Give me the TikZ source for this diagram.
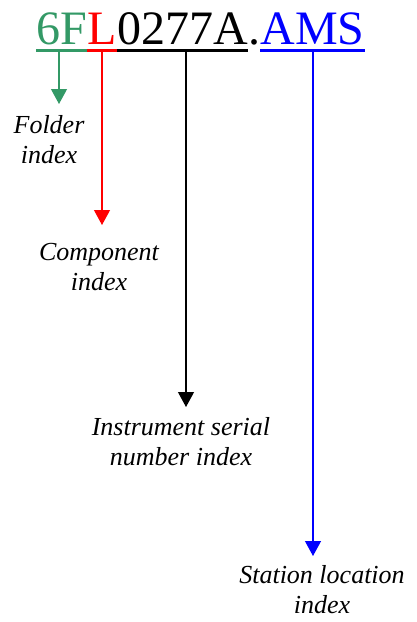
\documentclass[tikz,border=0pt]{standalone}
\usepackage{fontspec}
\setmainfont{Liberation Serif}
\usetikzlibrary{arrows.meta}
\definecolor{fgreen}{RGB}{51,153,102}
\definecolor{fred}{RGB}{255,0,0}
\definecolor{fblue}{RGB}{0,0,255}
\begin{document}
\begin{tikzpicture}[x=1pt,y=-1pt,
  part/.style={inner sep=0pt,anchor=base west,font=\fontsize{48}{54}\selectfont},
  uline/.style={line width=3pt},
  ar/.style={line width=1.2pt,-{Triangle[length=15pt,width=16pt]}},
  lab/.style={inner sep=0pt,anchor=base,align=center,font=\fontsize{26}{30}\selectfont\itshape}]
\useasboundingbox (0,0) rectangle (417,622);
% main code
\node[part,text=fgreen] (g) at (36,44) {6F};
\node[part,text=fred] (r) at (g.base east) {L};
\node[part] (k) at (r.base east) {0277A};
\node[part] (d) at (k.base east) {.};
\node[part,text=fblue] (b) at (d.base east) {AMS};
% underlines
\draw[uline,fgreen] ([yshift=-6pt]g.base west) -- ([yshift=-6pt]g.base east);
\draw[uline,fred] ([yshift=-6pt]r.base west) -- ([yshift=-6pt]r.base east);
\draw[uline,black] ([yshift=-6pt]k.base west) -- ([yshift=-6pt]k.base east);
\draw[uline,fblue] ([yshift=-6pt]b.base west) -- ([yshift=-6pt]b.base east);
% labels (base = baseline of last line)
\node[lab] (fl) at (49,163) {Folder\\index};
\node[lab] (cl) at (99,290) {Component\\index};
\node[lab] (il) at (181,465) {Instrument serial\\number index};
\node[lab] (sl) at (322,613) {Station location\\index};
% arrow coordinates
\coordinate (ga) at (59,50);  \coordinate (gt) at (59,104);
\coordinate (ra) at (102,50); \coordinate (rt) at (102,225);
\coordinate (ka) at (186,50); \coordinate (kt) at (186,407);
\coordinate (ba) at (313,50); \coordinate (bt) at (313,556);
\draw[ar,fgreen] (ga) -- (gt);
\draw[ar,fred] (ra) -- (rt);
\draw[ar,black] (ka) -- (kt);
\draw[ar,fblue] (ba) -- (bt);
\end{tikzpicture}
\end{document}
